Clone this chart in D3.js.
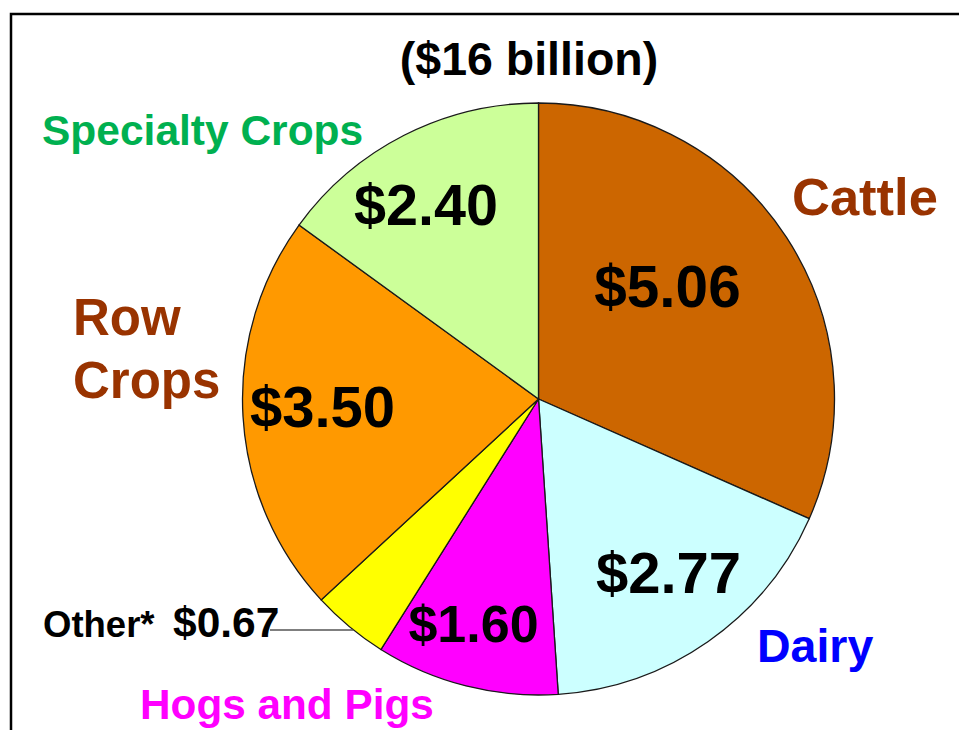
<!DOCTYPE html>
<html>
<head>
<meta charset="utf-8">
<script src="https://cdn.jsdelivr.net/npm/d3@7"></script>
<style>
  html, body { margin: 0; padding: 0; background: #fff; }
  svg { display: block; }
  text { font-family: "Liberation Sans", Arial, Helvetica, sans-serif; font-weight: bold; }
</style>
</head>
<body>
<svg id="chart" width="959" height="730"></svg>
<script>
// ---- data ----
const categories = ["Cattle", "Dairy", "Hogs and Pigs", "Other*", "Row Crops", "Specialty Crops"];
const values = [5.06, 2.77, 1.60, 0.67, 3.50, 2.40];
const valueLabels = ["$5.06", "$2.77", "$1.60", "$0.67", "$3.50", "$2.40"];
const totalLabel = "($16 billion)";

// ---- styles ----
const fills = ["#CC6600", "#CCFFFF", "#FF00FF", "#FFFF00", "#FF9900", "#CCFF99"];
// positions/sizes of value labels inside slices (Other is labelled outside)
const valueLabelPos = [
  { x: 667.5, y: 307, size: 58.5 },
  { x: 668.5, y: 593, size: 58 },
  { x: 473.5, y: 642, size: 52 },
  null,
  { x: 322.5, y: 427, size: 58 },
  { x: 426, y: 225, size: 57.5 }
];
const categoryLabelPos = [
  { lines: ["Cattle"], x: 792, y: 215, size: 52.5, color: "#993300", lh: 0 },
  { lines: ["Dairy"], x: 757, y: 662, size: 46.5, color: "#0000FF", lh: 0 },
  { lines: ["Hogs and Pigs"], x: 140, y: 719, size: 42.3, color: "#FF00FF", lh: 0 },
  null,
  { lines: ["Row", "Crops"], x: 73, y: 335, size: 51, color: "#993300", lh: 63 },
  { lines: ["Specialty Crops"], x: 42, y: 145, size: 42.5, color: "#00B050", lh: 0 }
];

const svg = d3.select("#chart");
const cx = 538.5, cy = 399, r = 296;

// frame
svg.append("rect")
  .attr("x", 11).attr("y", 14)
  .attr("width", 1000).attr("height", 800)
  .attr("fill", "none").attr("stroke", "#000").attr("stroke-width", 2.5);

// title
svg.append("text")
  .attr("x", 529).attr("y", 75)
  .attr("text-anchor", "middle")
  .attr("font-size", 46.5)
  .attr("fill", "#000")
  .text(totalLabel);

const pie = d3.pie().sort(null).value(d => d)(values);
const arc = d3.arc().innerRadius(0).outerRadius(r);

const g = svg.append("g").attr("transform", `translate(${cx},${cy})`);
g.selectAll("path.slice")
  .data(pie)
  .join("path")
  .attr("class", "slice")
  .attr("d", arc)
  .attr("fill", (d, i) => fills[i])
  .attr("stroke", "#1a1a1a")
  .attr("stroke-width", 1.3);

// value labels
valueLabelPos.forEach((p, i) => {
  if (!p) return;
  svg.append("text")
    .attr("x", p.x).attr("y", p.y)
    .attr("text-anchor", "middle")
    .attr("font-size", p.size)
    .attr("fill", "#000")
    .text(valueLabels[i]);
});

// category labels
categoryLabelPos.forEach((p, i) => {
  if (!p) return;
  p.lines.forEach((ln, k) => {
    svg.append("text")
      .attr("x", p.x).attr("y", p.y + k * p.lh)
      .attr("font-size", p.size)
      .attr("fill", p.color)
      .text(ln);
  });
});

// "Other*" label with leader line to the slice edge
const otherIdx = 3;
const leaderY = 630;
const edgeX = cx - Math.sqrt(r * r - (leaderY - cy) * (leaderY - cy));
svg.append("line")
  .attr("x1", 270).attr("y1", leaderY)
  .attr("x2", edgeX).attr("y2", leaderY)
  .attr("stroke", "#555").attr("stroke-width", 1.3);
svg.append("text")
  .attr("x", 43).attr("y", 637)
  .attr("font-size", 36.5)
  .attr("fill", "#000")
  .text(categories[otherIdx]);
svg.append("text")
  .attr("x", 173).attr("y", 637)
  .attr("font-size", 42.5)
  .attr("fill", "#000")
  .text(valueLabels[otherIdx]);
</script>
</body>
</html>
